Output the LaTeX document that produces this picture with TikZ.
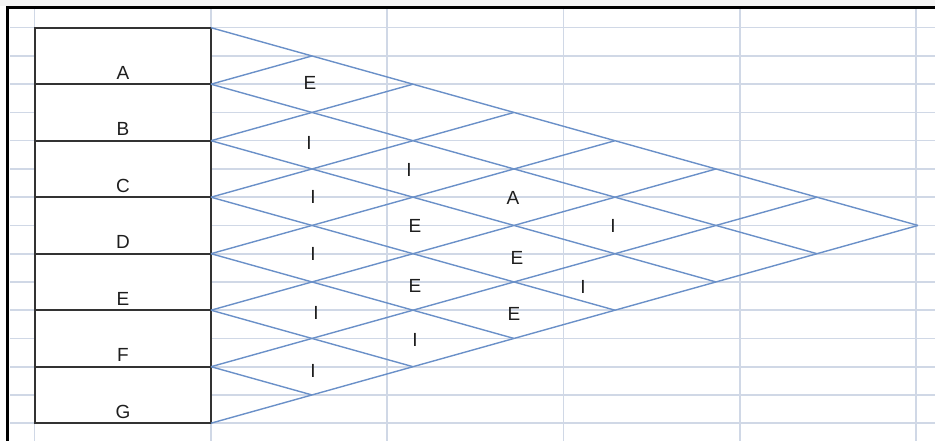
\documentclass[tikz,border=0pt]{standalone}
\usepackage{fontspec}
\setmainfont{Liberation Sans}
\usetikzlibrary{calc,positioning}
\usepackage{xcolor}
\definecolor{sheetgrid}{HTML}{D0D8E6}
\definecolor{chartblue}{HTML}{6A90C8}
\definecolor{boxline}{HTML}{333333}
\definecolor{inkdark}{HTML}{1E1E1E}

\begin{document}
\begin{tikzpicture}[
    x=1pt, y=-1pt,
    font=\fontsize{19}{21}\selectfont,
    gridline/.style={draw=sheetgrid, line width=1.6pt},
    dept/.style={draw=boxline, line width=1.8pt, fill=white,
      minimum width=176pt, minimum height=56.5pt, inner sep=0pt, outer sep=0pt},
    deptname/.style={anchor=base, yshift=5pt, text=inkdark, inner sep=0pt},
    link/.style={draw=chartblue, line width=1.4pt},
    rating/.style={inner sep=0pt, text=inkdark}
  ]
    \useasboundingbox (0,0) rectangle (935,441);
    \fill[gray!8] (0,0) rectangle (935,6);

    % spreadsheet background
    \foreach \r in {0,...,14}
      \draw[gridline] (10,{27.7+28.25*\r}) -- (935,{27.7+28.25*\r});
    \foreach \c in {0,...,5}
      \draw[gridline] ({34.5+176.3*\c},8) -- ({34.5+176.3*\c},441);
    \draw[line width=3.5pt] (7.5,441) -- (7.5,7.5) -- (935,7.5);

    % departments
    \node[dept, label={[deptname]south:A}] (a) at (123,56) {};
    \node[dept, below=0pt of a, label={[deptname]south:B}] (b) {};
    \node[dept, below=0pt of b, label={[deptname]south:C}] (c) {};
    \node[dept, below=0pt of c, label={[deptname]south:D}] (d) {};
    \node[dept, below=0pt of d, label={[deptname]south:E}] (e) {};
    \node[dept, below=0pt of e, label={[deptname]south:F}] (f) {};
    \node[dept, below=0pt of f, label={[deptname]south:G}] (g) {};

    % lattice points of the relationship chart
    \foreach \j in {0,...,7} {
      \pgfmathtruncatemacro\kmax{7-\j}
      \foreach \k in {0,...,\kmax}
        \coordinate (v-\j-\k) at ({211+101*\j},{27.7+28.25*\j+56.5*\k});
    }
    \foreach \k in {0,...,6} {
      \pgfmathtruncatemacro\kend{7-\k}
      \draw[link] (v-0-\k) -- (v-\kend-\k);
    }
    \foreach \i in {1,...,7}
      \draw[link] (v-0-\i) -- (v-\i-0);

    % closeness ratings
    \node[rating] (ab) at (310,83) {E};
    \node[rating] (bc) at (309,143) {I};
    \node[rating] (bd) at (409,170) {I};
    \node[rating] (cd) at (313,197) {I};
    \node[rating] (be) at (513,198) {A};
    \node[rating] (ce) at (415,226) {E};
    \node[rating] (bf) at (613,226) {I};
    \node[rating] (de) at (313,254) {I};
    \node[rating] (cf) at (517,258) {E};
    \node[rating] (df) at (415,286) {E};
    \node[rating] (cg) at (583,287) {I};
    \node[rating] (ef) at (316,313) {I};
    \node[rating] (dg) at (514,314) {E};
    \node[rating] (eg) at (415,340) {I};
    \node[rating] (fg) at (313,371) {I};
  \end{tikzpicture}
\end{document}
